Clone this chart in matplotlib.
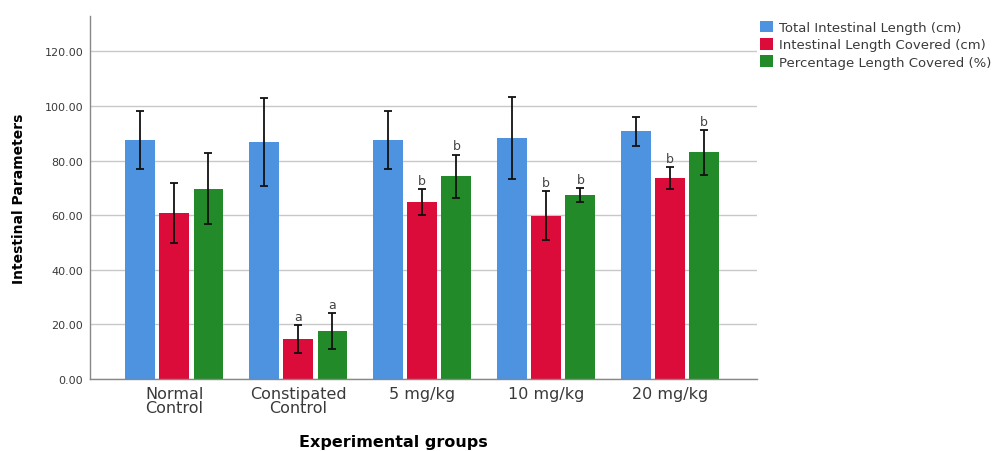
import matplotlib
matplotlib.use("Agg")
import matplotlib.pyplot as plt
import numpy as np

groups = ["Normal\nControl", "Constipated\nControl", "5 mg/kg", "10 mg/kg", "20 mg/kg"]
series_names = ["Total Intestinal Length (cm)", "Intestinal Length Covered (cm)", "Percentage Length Covered (%)"]
total_len = [87.5, 86.8, 87.5, 88.3, 90.8]
total_err = [10.7, 16.2, 10.7, 15.2, 5.3]
covered_len = [60.8, 14.7, 64.8, 59.8, 73.6]
covered_err = [11.0, 5.0, 4.7, 8.9, 4.1]
pct_covered = [69.7, 17.5, 74.2, 67.5, 83.0]
pct_err = [13.0, 6.6, 8.0, 2.5, 8.1]
covered_letters = ["", "a", "b", "b", "b"]
pct_letters = ["", "a", "b", "b", "b"]
yticks = [0, 20, 40, 60, 80, 100, 120]

colors = ["#4d93e0", "#dc0c3a", "#238a2a"]
txt = "#3a3a3a"

fig = plt.figure(figsize=(9.96, 4.52), dpi=100)
ax = fig.add_axes([0.0904, 0.1593, 0.6696, 0.8031])

x = np.arange(len(groups))
w = 0.24
off = 0.275
data = [(total_len, total_err, None), (covered_len, covered_err, covered_letters), (pct_covered, pct_err, pct_letters)]
for i, (vals, errs, letters) in enumerate(data):
    xs = x + (i - 1) * off
    ax.bar(xs, vals, width=w, color=colors[i], label=series_names[i], zorder=2)
    ax.errorbar(xs, vals, yerr=errs, fmt="none", ecolor="#111111", elinewidth=1.3,
                capsize=3, capthick=1.3, zorder=3)
    if letters:
        for xi, v, e, l in zip(xs, vals, errs, letters):
            if l:
                ax.text(xi, v + e + 0.8, l, ha="center", va="bottom", fontsize=9, color="#444444")

ax.set_xlim(-0.68, 4.70)
ax.set_ylim(0, 133)
ax.set_yticks(yticks)
ax.set_yticklabels([f"{t:.2f}" for t in yticks], fontsize=8, color=txt)
ax.set_xticks(x)
ax.set_xticklabels(groups, fontsize=11.5, color=txt, linespacing=0.9)
ax.tick_params(axis="y", length=0, pad=5)
ax.tick_params(axis="x", length=0, pad=5)
ax.yaxis.grid(True, color="#c8c8c8", linewidth=1, zorder=0)
ax.set_axisbelow(True)
for s in ["top", "right"]:
    ax.spines[s].set_visible(False)
for s in ["left", "bottom"]:
    ax.spines[s].set_color("#888888")
    ax.spines[s].set_linewidth(1)

ax.set_ylabel("Intestinal Parameters", fontsize=10, fontweight="bold", labelpad=13)
fig.text(393 / 996, 1 - 443 / 452, "Experimental groups", fontsize=11.5, fontweight="bold",
         ha="center", va="center")

leg = fig.legend(loc="upper left", bbox_to_anchor=(0.758, 0.963), frameon=False,
                 fontsize=9.5, handlelength=0.95, handleheight=0.95, handletextpad=0.5,
                 labelspacing=0.3, borderaxespad=0)
for t in leg.get_texts():
    t.set_color(txt)

fig.savefig("out.png", dpi=100)
